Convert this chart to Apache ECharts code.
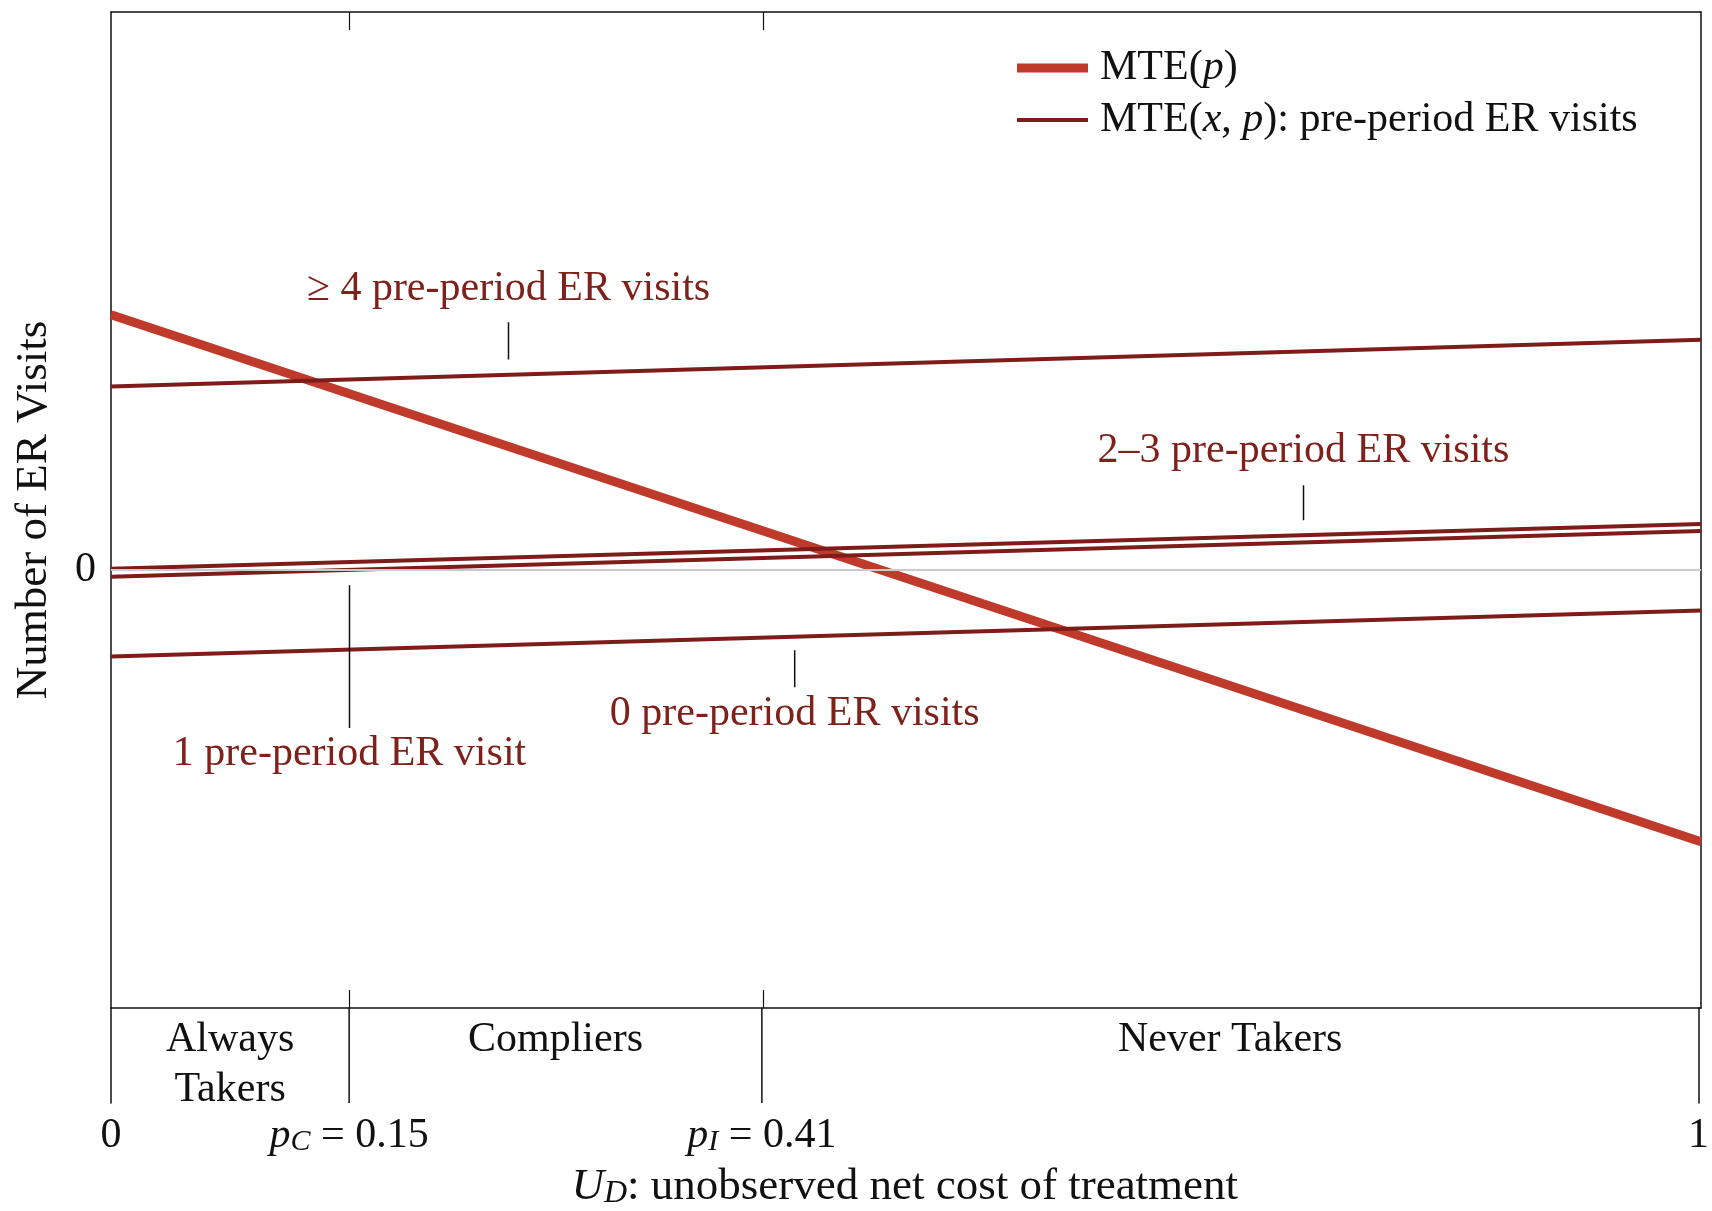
<!DOCTYPE html>
<html><head><meta charset="utf-8">
<script src="https://cdn.jsdelivr.net/npm/echarts@6/dist/echarts.min.js"></script>
<style>html,body{margin:0;padding:0;background:#fff}#c{width:1712px;height:1211px}</style>
</head><body><div id="c"></div>
<script>
// ---- data ----
const xEnds = [0, 1];
const mteP = [0.256, -0.273];
const visits4plus = [0.184, 0.231];
const visits2to3 = [0.001, 0.046];
const visits1 = [-0.007, 0.039];
const visits0 = [-0.087, -0.041];
const boundaries = [0, 0.15, 0.41, 1];
const boundaryLabels = ['0', 'p_C = 0.15', 'p_I = 0.41', '1'];
const groupNames = ['Always\nTakers', 'Compliers', 'Never Takers'];
const annotTexts = ['≥ 4 pre-period ER visits', '2–3 pre-period ER visits', '0 pre-period ER visits', '1 pre-period ER visit'];
const annotX = [0.25, 0.75, 0.43, 0.15];
const annotTextY = [0.282, 0.119, -0.145, -0.185];
const pointerTop = [0.2485, 0.0848, -0.0808, -0.0156];
const pointerBottom = [0.211, 0.0497, -0.118, -0.159];

// ---- style ----
const FONT = '"Liberation Serif", "DejaVu Serif", serif';
const FS = 42;
const FS_NAME = 45;
const RED_TEXT = '#7f211b';
const LINE_DARK = '#7d1c19';
const MTE_COLOR = '#c03a2b';
const INK = '#111111';

function mkRich(fs) {
  return {
    n: {fontFamily: FONT, fontSize: fs, color: INK, lineHeight: 48, verticalAlign: 'bottom'},
    i: {fontFamily: FONT, fontSize: fs, fontStyle: 'italic', color: INK, lineHeight: 48, verticalAlign: 'bottom'},
    sub: {fontFamily: FONT, fontSize: Math.round(fs * 0.72), fontStyle: 'italic', color: INK, lineHeight: 30, padding: [18, 0, 0, 0], verticalAlign: 'bottom'}
  };
}

function tickRich(s) {
  const m = s.match(/^p_(\w) = (.*)$/);
  if (m) return '{i|p}{sub|' + m[1] + '}{n| = ' + m[2] + '}';
  return '{n|' + s + '}';
}
function pairs(ys) { return xEnds.map((x, i) => [x, ys[i]]); }

const thinSeries = [visits4plus, visits2to3, visits1, visits0].map(ys => ({
  type: 'line', name: 'MTE(x,p)', xAxisIndex: 0, yAxisIndex: 0,
  data: pairs(ys), symbol: 'none', showSymbol: false, z: 3, silent: true,
  lineStyle: {color: LINE_DARK, width: 4}, itemStyle: {color: LINE_DARK}
}));

const pointerSeries = annotX.map((x, i) => ({
  type: 'line', name: 'ptr' + i, xAxisIndex: 0, yAxisIndex: 0,
  data: [[x, pointerTop[i]], [x, pointerBottom[i]]], symbol: 'none', z: 4, silent: true,
  lineStyle: {color: INK, width: 1.5}
}));

const sepSeries = boundaries.slice(1, -1).map((b, i) => ({
  type: 'line', name: 'sep' + i, xAxisIndex: 2, yAxisIndex: 2,
  data: [[b, 0], [b, 1]], symbol: 'none', silent: true,
  lineStyle: {color: INK, width: 1.5}
}));

const groupData = groupNames.map((g, i) => [(boundaries[i] + boundaries[i + 1]) / 2, 0.93, g]);

const axLine = {show: true, onZero: false, lineStyle: {color: INK, width: 1.5}};

const option = {
  animation: false,
  backgroundColor: '#fff',
  grid: [
    {left: 111, right: 11, top: 12, height: 996},
    {left: 111, right: 11, top: 1008, height: 100}
  ],
  legend: {
    orient: 'vertical', left: 1012, top: 42,
    itemWidth: 71, itemHeight: 14, itemGap: 10,
    data: [
      {name: 'MTE(p)', icon: 'path://M0,0H71V9H0Z', itemStyle: {color: MTE_COLOR}},
      {name: 'MTE(x,p)', icon: 'path://M0,0H71V4H0Z', itemStyle: {color: LINE_DARK}}
    ],
    formatter: name => name === 'MTE(p)'
      ? '{n|MTE(}{i|p}{n|)}'
      : '{n|MTE(}{i|x}{n|, }{i|p}{n|): pre-period ER visits}',
    textStyle: {fontFamily: FONT, fontSize: FS, color: INK, padding: [0, 0, 0, 7], rich: {
      n: {fontFamily: FONT, fontSize: FS, color: INK},
      i: {fontFamily: FONT, fontSize: FS, fontStyle: 'italic', color: INK}
    }},
    selectedMode: false
  },
  xAxis: [
    {type: 'value', gridIndex: 0, min: 0, max: 1, position: 'bottom',
      axisLine: axLine,
      axisTick: {show: true, inside: true, length: 18, customValues: boundaries.slice(1, -1), lineStyle: {color: INK, width: 1.2}},
      axisLabel: {show: false}, splitLine: {show: false}},
    {type: 'value', gridIndex: 0, min: 0, max: 1, position: 'top',
      axisLine: axLine,
      axisTick: {show: true, inside: true, length: 18, customValues: boundaries.slice(1, -1), lineStyle: {color: INK, width: 1.2}},
      axisLabel: {show: false}, splitLine: {show: false}},
    {type: 'value', gridIndex: 1, min: 0, max: 1, position: 'bottom',
      axisLine: {show: false, onZero: false}, axisTick: {show: false}, splitLine: {show: false},
      axisLabel: {show: true, customValues: boundaries, margin: 6, hideOverlap: false,
        showMinLabel: true, showMaxLabel: true,
        formatter: v => { const k = boundaries.findIndex(b => Math.abs(b - v) < 1e-9); return k >= 0 ? tickRich(boundaryLabels[k]) : ''; },
        rich: mkRich(FS)},
      name: '{i|U}{sub|D}{n|: unobserved net cost of treatment}',
      nameLocation: 'middle', nameGap: 59,
      nameTextStyle: {fontFamily: FONT, fontSize: FS_NAME, color: INK, rich: mkRich(FS_NAME)}}
  ],
  yAxis: [
    {type: 'value', gridIndex: 0, min: -0.44, max: 0.56, position: 'left',
      axisLine: axLine,
      axisTick: {show: false}, splitLine: {show: false},
      axisLabel: {show: true, customValues: [0], formatter: v => String(Math.round(v)), margin: 15,
        fontFamily: FONT, fontSize: FS, color: INK},
      name: 'Number of ER Visits', nameLocation: 'middle', nameGap: 54,
      nameTextStyle: {fontFamily: FONT, fontSize: FS_NAME, color: INK}},
    {type: 'value', gridIndex: 0, min: -0.44, max: 0.56, position: 'right',
      axisLine: axLine,
      axisTick: {show: false}, axisLabel: {show: false}, splitLine: {show: false}},
    {type: 'value', gridIndex: 1, min: 0, max: 1, position: 'left',
      axisLine: axLine,
      axisTick: {show: false}, axisLabel: {show: false}, splitLine: {show: false}},
    {type: 'value', gridIndex: 1, min: 0, max: 1, position: 'right',
      axisLine: axLine,
      axisTick: {show: false}, axisLabel: {show: false}, splitLine: {show: false}}
  ],
  series: [
    {type: 'line', name: 'zero', xAxisIndex: 0, yAxisIndex: 0, data: [], z: 1,
      markLine: {silent: true, symbol: 'none', label: {show: false},
        lineStyle: {color: '#c8ccd2', width: 2, type: 'solid'}, data: [{yAxis: 0}]}},
    {type: 'line', name: 'MTE(p)', xAxisIndex: 0, yAxisIndex: 0, data: pairs(mteP),
      symbol: 'none', showSymbol: false, z: 2, silent: true,
      lineStyle: {color: MTE_COLOR, width: 9}, itemStyle: {color: MTE_COLOR}},
    ...thinSeries,
    ...pointerSeries,
    {type: 'scatter', name: 'annot', xAxisIndex: 0, yAxisIndex: 0, symbolSize: 0, z: 5, silent: true,
      itemStyle: {opacity: 1},
      data: annotX.map((x, i) => [x, annotTextY[i], annotTexts[i]]),
      label: {show: true, position: 'inside', formatter: p => p.data[2], opacity: 1,
        fontFamily: FONT, fontSize: FS, color: RED_TEXT}},
    ...sepSeries,
    {type: 'scatter', name: 'groups', xAxisIndex: 2, yAxisIndex: 2, symbolSize: 0, silent: true,
      itemStyle: {opacity: 1},
      data: groupData,
      label: {show: true, position: 'inside', verticalAlign: 'top', align: 'center', formatter: p => p.data[2], opacity: 1,
        fontFamily: FONT, fontSize: FS, lineHeight: 50, color: INK}}
  ]
};

const chart = echarts.init(document.getElementById('c'), null, {renderer: 'canvas'});
chart.setOption(option);
</script>
</body></html>
